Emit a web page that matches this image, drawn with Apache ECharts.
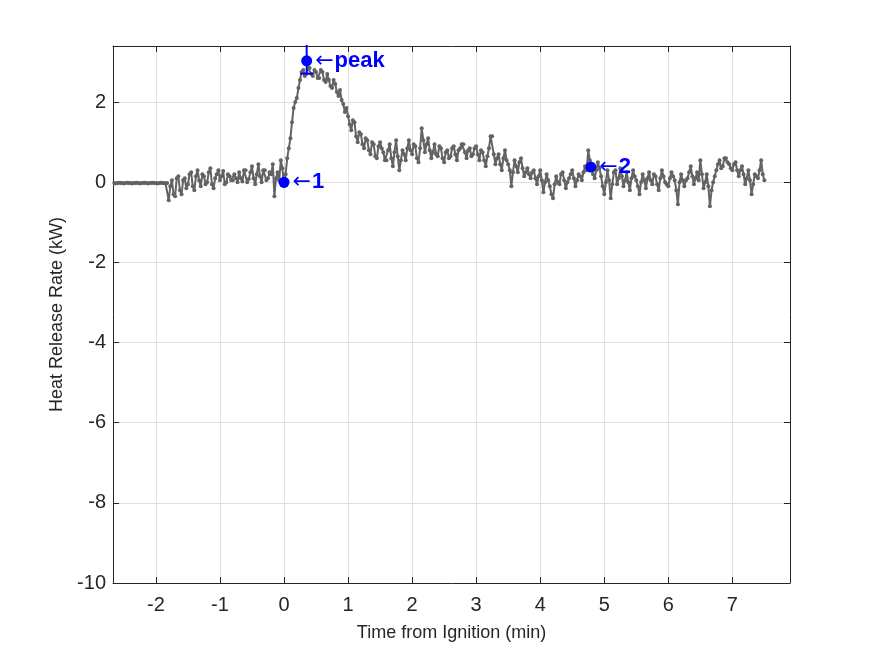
<!DOCTYPE html>
<html><head><meta charset="utf-8">
<script src="https://cdn.jsdelivr.net/npm/echarts@6/dist/echarts.min.js"></script>
<style>html,body{margin:0;padding:0;background:#fff}#c{width:875px;height:656px}</style>
</head><body><div id="c"></div>
<script>
// sampling of the measured series (minutes)
const T0 = -2.65, DT = 0.025;
// heat release rate (kW), one value per sample
const hrrFlat = [-0.02,-0.03,-0.02,-0.01,-0.02,-0.02,-0.03,-0.02,-0.01,-0.02,
  -0.02,-0.03,-0.02,-0.02,-0.01,-0.02,-0.03,-0.02,-0.02,-0.01,
  -0.02,-0.03,-0.02,-0.02,-0.01,-0.02,-0.02,-0.03,-0.02,-0.01,
  -0.02,-0.02,-0.03,-0.02];
const hrrPre = [-0.45,-0.10,0.05,-0.30,-0.35,0.10,0.15,-0.20,-0.30,0.05,0.10,-0.15,-0.05,0.20,0.25,-0.10,-0.20,0.15,0.30,0.05,
  -0.10,0.20,0.15,-0.05,0.00,0.25,0.35,-0.05,-0.15,0.10,0.20,0.30,0.05,0.15,0.28,-0.05,0.00,0.20,0.15,0.05,
  0.05,0.20,0.10,0.00,0.25,0.10,0.02,0.30,0.30,0.00,0.08,0.25,0.40,0.10,-0.05,0.20,0.45,0.15,0.00,0.30,
  0.30,0.05,0.10,0.25,0.20,0.45,-0.35,0.10,0.25,0.05,0.55,0.35];
const hrrFire = [-0.10,0.20,0.60,0.85,1.10,1.50,1.85,2.00,2.10,2.35,2.55,2.75,2.80,2.65,2.70,2.85,2.85,2.70,2.65,2.80,
  2.75,2.60,2.60,2.80,2.75,2.55,2.50,2.70,2.55,2.40,2.35,2.55,2.45,2.25,2.15,2.30,2.05,1.95,1.75,1.85,
  1.65,1.45,1.30,1.55,1.50,1.15,1.00,1.25,1.20,0.95,0.85,1.10,1.05,0.80,0.70,1.00,0.95,0.65,0.60,0.90,
  1.00,0.85,0.75,0.55,0.55,0.80,0.95,0.60,0.40,0.75,1.05,0.65,0.30,0.55,0.80,0.70,0.55,0.85,1.05,0.80,
  0.70,0.95,0.90,0.60,0.50,0.85,1.35,1.05,0.75,0.95,1.10,0.80,0.60,0.75,0.95,0.70,0.65,0.90,0.85,0.60,
  0.50,0.75,0.80,0.60,0.65,0.85,0.90,0.70,0.55,0.80,0.85,0.95,0.95,0.75,0.60,0.80,0.85,0.65,0.70,0.85,
  0.90,0.70,0.55,0.80,0.75,0.55,0.40,0.65,0.85,1.15,1.15,0.70,0.45,0.60,0.70,0.45,0.30,0.60,0.80,0.55,
  0.45,0.30,-0.10,0.25,0.55,0.40,0.25,0.50,0.60,0.35,0.15,0.25,0.35,0.20,0.10,0.25,0.30,0.10,-0.05,0.15,
  0.30,0.05,-0.25,0.00,0.20,0.05,-0.10,-0.30,-0.40,-0.05,0.15,0.00,-0.05,0.20,0.25,0.05,-0.15,0.00,0.10,0.20,
  0.30,0.10,-0.10,0.05,0.20,0.15,0.05,0.25,0.40,0.30,0.80,0.55,0.35,0.20,0.10,0.30,0.50,0.35,0.15,-0.10,
  -0.30,0.00,0.30,0.05,-0.40,-0.05,0.25,0.30,-0.05,0.10,0.35,0.15,-0.10,0.05,0.25,0.00,-0.20,0.10,0.30,0.15,
  0.05,-0.10,-0.30,0.00,0.20,0.05,-0.15,0.10,0.25,0.05,-0.05,0.20,0.15,-0.05,-0.20,0.10,0.30,0.15,0.00,-0.05,
  -0.10,0.10,0.25,0.15,0.05,-0.20,-0.55,0.00,0.20,0.05,-0.10,0.05,0.10,0.25,0.40,0.15,-0.05,0.10,0.25,0.05,
  0.55,0.20,-0.15,0.00,0.20,-0.10,-0.60,-0.20,0.00,0.15,0.30,0.45,0.55,0.35,0.40,0.60,0.60,0.50,0.45,0.35,
  0.30,0.45,0.50,0.30,0.15,0.30,0.40,0.20,-0.05,0.10,0.30,0.05,-0.30,-0.05,0.20,0.15,0.10,0.30,0.55,0.20,
  0.05];
const hrr = hrrFlat.concat(hrrPre, hrrFire);

const xTicks = [-2,-1,0,1,2,3,4,5,6,7];
const yTicks = [-10,-8,-6,-4,-2,0,2];

// annotated points
const markT = [0, 0.354, 4.79];
const markV = [0, 3.03, 0.38];
const markLabel = ['1', 'peak', '2'];
// vertical bar at the peak
const peakBarLow = 2.71, peakBarTop = 3.8, peakBarHalfW = 0.1;

const FONT = "'Liberation Sans', Arial, Helvetica, sans-serif";
const AX = '#262626', GRIDC = '#dfdfdf', LINEC = '#636363', BLUE = '#0000ff';

const chart = echarts.init(document.getElementById('c'), null, {renderer: 'canvas'});

const axisCommon = {
  type: 'value',
  axisLine: {show: true, onZero: false, lineStyle: {color: AX, width: 1}},
  axisTick: {show: true, inside: true, length: 6, lineStyle: {color: AX, width: 1}},
};

const option = {
  animation: false,
  backgroundColor: '#fff',
  grid: {left: 113, right: 85, top: 46, bottom: 73, containLabel: false},
  xAxis: [
    Object.assign({}, axisCommon, {
      min: -2.67, max: 7.9, position: 'bottom',
      axisTick: Object.assign({}, axisCommon.axisTick, {customValues: xTicks}),
      axisLabel: {customValues: xTicks, margin: 12, fontSize: 20, color: AX, fontFamily: FONT},
      splitLine: {show: true, lineStyle: {color: GRIDC, width: 1}},
      name: 'Time from Ignition (min)', nameLocation: 'middle', nameGap: 41,
      nameTextStyle: {fontSize: 18, color: AX, fontFamily: FONT}
    }),
    Object.assign({}, axisCommon, {
      min: -2.67, max: 7.9, position: 'top',
      axisTick: Object.assign({}, axisCommon.axisTick, {customValues: xTicks}),
      axisLabel: {show: false, customValues: xTicks},
      splitLine: {show: false}
    })
  ],
  yAxis: [
    Object.assign({}, axisCommon, {
      min: -10, max: 3.4, position: 'left',
      axisTick: Object.assign({}, axisCommon.axisTick, {customValues: yTicks}),
      axisLabel: {customValues: yTicks, margin: 7, fontSize: 20, color: AX, fontFamily: FONT},
      splitLine: {show: true, lineStyle: {color: GRIDC, width: 1}},
      name: 'Heat Release Rate (kW)', nameLocation: 'middle', nameGap: 46,
      nameTextStyle: {fontSize: 18, color: AX, fontFamily: FONT}
    }),
    Object.assign({}, axisCommon, {
      min: -10, max: 3.4, position: 'right',
      axisTick: Object.assign({}, axisCommon.axisTick, {customValues: yTicks}),
      axisLabel: {show: false, customValues: yTicks},
      splitLine: {show: false}
    })
  ],
  series: [
    {
      type: 'line', xAxisIndex: 0, yAxisIndex: 0,
      data: hrr.map((v, i) => [T0 + i * DT, v]),
      showSymbol: true, showAllSymbol: true, symbol: 'circle', symbolSize: 4,
      itemStyle: {color: LINEC},
      lineStyle: {color: LINEC, width: 2},
      clip: true, z: 2
    },
    {
      type: 'line', xAxisIndex: 0, yAxisIndex: 0,
      data: [[markT[1], peakBarLow], [markT[1], peakBarTop]],
      showSymbol: false, lineStyle: {color: BLUE, width: 2}, clip: true, z: 3
    },
    {
      type: 'line', xAxisIndex: 0, yAxisIndex: 0,
      data: [[markT[1] - peakBarHalfW, peakBarLow], [markT[1] + peakBarHalfW, peakBarLow]],
      showSymbol: false, lineStyle: {color: BLUE, width: 2}, clip: true, z: 3
    },
    {
      type: 'scatter', xAxisIndex: 0, yAxisIndex: 0,
      symbol: 'circle', symbolSize: 11,
      itemStyle: {color: BLUE, opacity: 1},
      data: markT.map((t, i) => ({value: [t, markV[i]], name: markLabel[i]})),
      label: {
        show: true, position: 'right', distance: 3,
        formatter: p => '{a|\u2190}{b|' + p.name + '}',
        rich: {
          a: {fontSize: 22, color: BLUE, fontFamily: "'DejaVu Sans', sans-serif", fontWeight: 'normal', padding: [0, 1, 0, 0]},
          b: {fontSize: 22, color: BLUE, fontFamily: FONT, fontWeight: 'bold'}
        }
      },
      z: 4
    }
  ]
};
chart.setOption(option);
</script>
</body></html>
